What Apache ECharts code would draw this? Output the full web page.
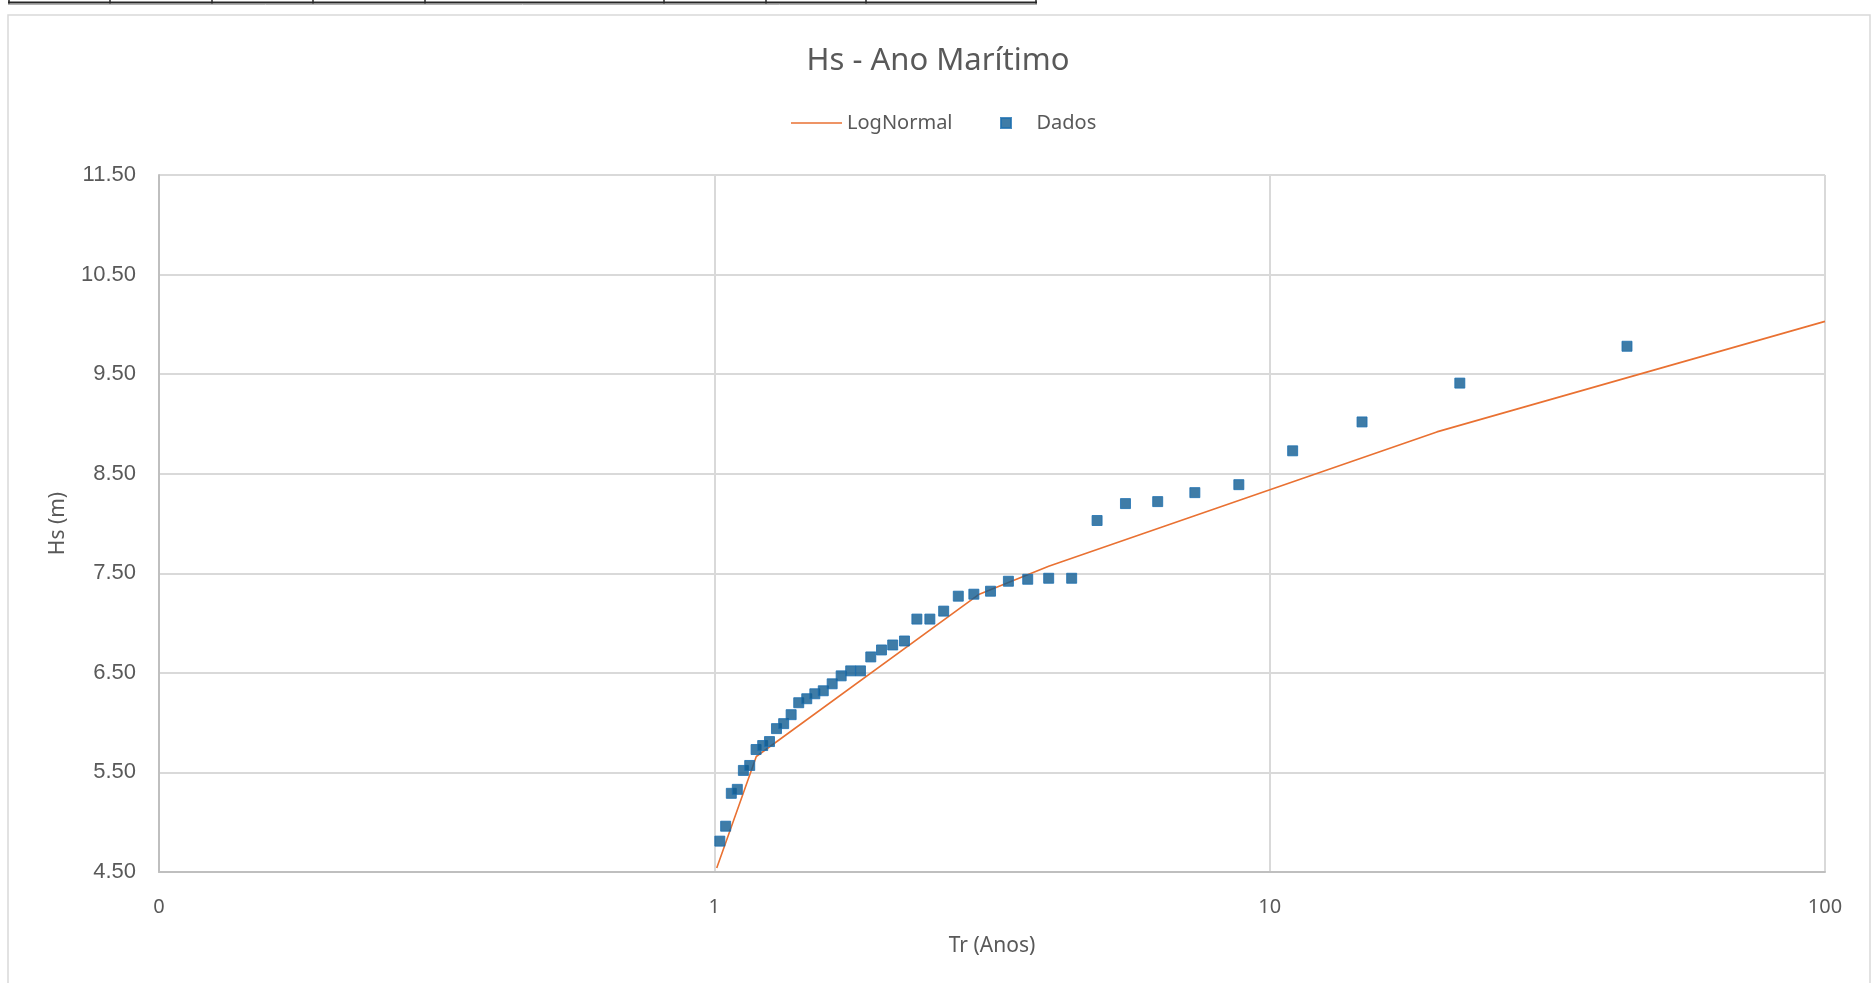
<!DOCTYPE html>
<html>
<head>
<meta charset="utf-8">
<title>Hs - Ano Marítimo</title>
<script src="https://cdn.jsdelivr.net/npm/echarts@6/dist/echarts.min.js"></script>
<style>
  html, body { margin: 0; padding: 0; background: #ffffff; }
  #chart { width: 1876px; height: 983px; }
</style>
</head>
<body>
<div id="chart"></div>
<script>
// Return period (years) of each ranked observation
const trDados = [
  1.023, 1.048, 1.073, 1.100, 1.128, 1.158, 1.189, 1.222, 1.257, 1.294,
  1.333, 1.375, 1.419, 1.467, 1.517, 1.571, 1.630, 1.692, 1.760, 1.833,
  1.913, 2.000, 2.095, 2.200, 2.316, 2.444, 2.588, 2.750, 2.933, 3.143,
  3.385, 3.667, 4.000, 4.400, 4.889, 5.500, 6.286, 7.333, 8.800, 11.000,
  14.667, 22.000, 44.000
];
// Significant wave height of each observation (m)
const hsDados = [
  4.81, 4.96, 5.29, 5.33, 5.52, 5.57, 5.73, 5.77, 5.81, 5.94,
  5.99, 6.08, 6.20, 6.24, 6.29, 6.32, 6.39, 6.47, 6.52, 6.52,
  6.66, 6.73, 6.78, 6.82, 7.04, 7.04, 7.12, 7.27, 7.29, 7.32,
  7.42, 7.44, 7.45, 7.45, 8.03, 8.20, 8.22, 8.31, 8.39, 8.73,
  9.02, 9.41, 9.78
];
// Fitted LogNormal quantiles
const trLogNormal = [1.01, 1.19, 3, 4, 20, 100];
const hsLogNormal = [4.54, 5.66, 7.29, 7.57, 8.92, 10.03];

// Axis tick labels (log axis: 0.1, 1, 10, 100 shown without decimals)
const xTickValues = [0.1, 1, 10, 100];
const xTickLabels = ['0', '1', '10', '100'];
const yTicks = [4.5, 5.5, 6.5, 7.5, 8.5, 9.5, 10.5, 11.5];

const seriesNames = ['LogNormal', 'Dados'];

const textColor = '#595959';
const lineColor = '#E97132';
const markerColor = '#0f5b91';
const uiFont = '"Noto Sans", "Open Sans", sans-serif';

const chart = echarts.init(document.getElementById('chart'), null, { renderer: 'canvas' });

const dadosPoints = trDados.map((t, i) => [t, hsDados[i]]);
const logNormalPoints = trLogNormal.map((t, i) => [t, hsLogNormal[i]]);

// sheet cells peeking above the chart object
const cellEdges = [9, 110, 212, 313, 425, 664, 766, 866, 1036];
const sheetGraphics = [
  { type: 'line', shape: { x1: 8, y1: 2.5, x2: 1037, y2: 2.5 }, style: { stroke: '#262626', lineWidth: 2 }, z: 10 },
  { type: 'line', shape: { x1: 8, y1: 4.5, x2: 1037, y2: 4.5 }, style: { stroke: '#b0b0b0', lineWidth: 1 }, z: 10 }
].concat(cellEdges.map(x => ({
  type: 'line', shape: { x1: x, y1: 0, x2: x, y2: 3.5 }, style: { stroke: '#262626', lineWidth: 1.5 }, z: 10
})));

const legendText = { color: textColor, fontFamily: uiFont, fontSize: 20, lineHeight: 24 };

const option = {
  animation: false,
  backgroundColor: '#ffffff',
  graphic: [
    {
      type: 'rect',
      shape: { x: 8, y: 15, width: 1862, height: 1000 },
      style: { fill: 'none', stroke: '#d9d9d9', lineWidth: 1.5 },
      z: -1
    }
  ].concat(sheetGraphics),
  title: {
    text: 'Hs - Ano Marítimo',
    left: 'center',
    top: 43,
    padding: 0,
    textStyle: {
      color: textColor,
      fontFamily: uiFont,
      fontSize: 31,
      fontWeight: 'normal',
      lineHeight: 36
    }
  },
  legend: [
    {
      data: [{ name: seriesNames[0], icon: 'path://M0,0H51V1.6H0Z', itemStyle: { color: lineColor } }],
      left: 791,
      top: 111,
      padding: 0,
      itemWidth: 51,
      itemHeight: 10,
      textStyle: legendText
    },
    {
      data: [{ name: seriesNames[1], icon: 'path://M0,0H10V10H0Z' }],
      left: 1000,
      top: 111,
      padding: 0,
      itemWidth: 51,
      itemHeight: 10,
      textStyle: legendText
    }
  ],
  grid: {
    left: 159,
    right: 51,
    top: 175,
    bottom: 111,
    containLabel: false
  },
  xAxis: {
    type: 'log',
    logBase: 10,
    min: xTickValues[0],
    max: xTickValues[xTickValues.length - 1],
    name: 'Tr (Anos)',
    nameLocation: 'middle',
    nameGap: 64,
    nameTextStyle: { color: textColor, fontFamily: uiFont, fontSize: 21 },
    axisLine: { show: true, lineStyle: { color: '#bfbfbf', width: 2 } },
    axisTick: { show: false },
    minorTick: { show: false },
    splitLine: { show: true, lineStyle: { color: '#d9d9d9', width: 2 } },
    axisLabel: {
      color: textColor,
      fontFamily: uiFont,
      fontSize: 20,
      margin: 25,
      showMinLabel: true,
      showMaxLabel: true,
      formatter: function (v) {
        let best = 0;
        for (let i = 1; i < xTickValues.length; i++) {
          if (Math.abs(Math.log10(v) - Math.log10(xTickValues[i])) <
              Math.abs(Math.log10(v) - Math.log10(xTickValues[best]))) best = i;
        }
        return xTickLabels[best];
      }
    }
  },
  yAxis: {
    type: 'value',
    min: yTicks[0],
    max: yTicks[yTicks.length - 1],
    interval: 1,
    name: 'Hs (m)',
    nameLocation: 'middle',
    nameRotate: 90,
    nameGap: 90,
    nameTextStyle: { color: textColor, fontFamily: uiFont, fontSize: 21 },
    axisLine: { show: true, lineStyle: { color: '#bfbfbf', width: 2 } },
    axisTick: { show: false },
    splitLine: { show: true, lineStyle: { color: '#d9d9d9', width: 2 } },
    axisLabel: {
      color: textColor,
      fontFamily: '"Liberation Sans", Arial, sans-serif',
      fontSize: 22,
      margin: 23,
      formatter: function (v) { return v.toFixed(2); }
    }
  },
  series: [
    {
      name: seriesNames[0],
      type: 'line',
      data: logNormalPoints,
      symbol: 'none',
      smooth: false,
      lineStyle: { color: lineColor, width: 1.6 },
      itemStyle: { color: lineColor },
      z: 2
    },
    {
      name: seriesNames[1],
      type: 'scatter',
      data: dadosPoints,
      symbol: 'rect',
      symbolSize: 10,
      itemStyle: { color: markerColor, borderColor: '#1d6fb0', borderWidth: 1 },
      z: 3
    }
  ]
};

chart.setOption(option);
</script>
</body>
</html>
